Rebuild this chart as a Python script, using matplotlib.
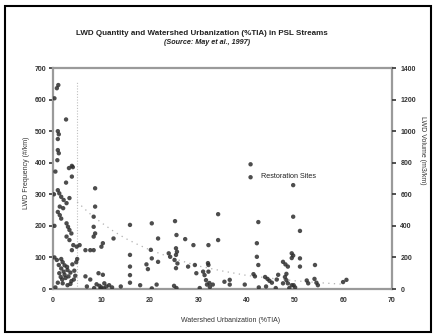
"""
LWD quantity vs. watershed urbanization (%TIA) for Puget Sound lowland streams.
Scatter of LWD frequency per site, with an exponential trend and a 5% TIA marker.
"""

import matplotlib
matplotlib.use("Agg")
import matplotlib.pyplot as plt
from matplotlib.patches import Rectangle


# LWD frequency (#/km) by watershed %TIA
tia = [1.1, 0.8, 0.3, 2.7, 1.0, 1.2, 1.0, 1.0, 1.2, 0.9, 0.5, 3.9, 4.1, 3.3,
       3.9, 2.7, 1.0, 1.3, 1.7, 2.2, 2.8, 3.4, 0.2, 1.4, 2.1, 1.0, 1.4, 1.7,
       2.8, 3.1, 3.4, 3.8, 0.3, 2.8, 3.4, 4.2, 4.9, 3.9, 5.5, 0.3, 1.7, 2.0,
       2.4, 1.7, 3.0, 1.3, 2.4, 3.6, 4.4, 4.0, 0.8, 1.2, 5.0, 4.8, 1.0, 2.0,
       3.0, 3.6, 2.6, 3.2, 1.6, 4.3, 0.5, 2.2, 2.9, 1.9, 3.8, 4.6,
       8.7, 8.7, 8.4, 8.4, 8.7, 8.4, 10.3, 10.0, 8.4, 6.7, 7.7, 12.5, 6.7,
       7.7, 9.4, 10.3, 9.0, 9.6, 10.0, 10.6, 11.0, 11.6, 12.2, 14.0, 8.5,
       9.8, 10.5, 7.0,
       15.9, 20.4, 21.7, 25.2, 25.5, 27.3, 29.0, 32.1, 34.1, 34.1, 15.9,
       15.9, 15.9, 20.2, 20.4, 19.3, 19.6, 21.7, 23.9, 24.2, 25.4, 25.6,
       25.4, 25.1, 25.7, 25.4, 27.9, 29.3, 29.6, 31.0, 31.3, 31.6, 32.0,
       32.3, 35.4, 15.9, 18.0, 20.4, 21.4, 25.0, 25.5, 30.3, 32.4,
       49.6, 42.4, 49.6, 51.0, 42.1, 42.1, 42.4, 49.3, 49.6, 49.3, 47.5,
       48.0, 48.5, 51.0, 51.0, 54.1, 32.1, 32.1, 41.4, 41.7, 36.5, 36.5,
       39.6, 43.8, 44.3, 44.7, 45.2, 46.5, 46.2, 48.2, 47.9, 48.2, 48.5,
       47.5, 49.3, 49.7, 50.0, 48.8, 52.4, 52.7, 54.0, 54.4, 54.7, 59.9,
       60.6, 31.8, 33.0, 42.5, 46.0, 44.0]
freq = [646, 636, 604, 537, 500, 490, 475, 440, 430, 408, 372, 390, 386, 383,
        356, 337, 313, 303, 292, 282, 272, 288, 300, 261, 256, 244, 234, 223,
        208, 197, 187, 176, 200, 166, 155, 139, 134, 123, 139, 100, 95, 85,
        75, 65, 60, 50, 45, 52, 58, 78, 92, 76, 95, 85, 20, 18,
        12, 16, 35, 40, 38, 30, 5, 55, 70, 30, 25, 42,
        319, 261, 229, 197, 176, 166, 145, 134, 123, 123, 123, 160, 40,
        30, 50, 45, 15, 10, 5, 18, 8, 12, 5, 8, 3,
        0, 2, 8,
        203, 208, 160, 215, 171, 158, 139, 139, 237, 155, 108,
        71, 44, 124, 97, 78, 63, 86, 113, 102, 129, 118,
        108, 92, 81, 66, 71, 76, 50, 55, 44, 28, 82,
        19, 23, 20, 12, 2, 14, 10, 3, 3, 6,
        329, 212, 229, 184, 145, 102, 76, 113, 106, 98, 86,
        78, 71, 97, 71, 76, 76, 55, 47, 40, 29, 14,
        14, 38, 32, 26, 20, 45, 30, 48, 38, 28, 18,
        18, 12, 12, 5, 3, 27, 18, 32, 20, 12, 22,
        29, 14, 14, 5, 3, 8]

# restoration sites
rest_tia = [40.8, 40.8]
rest_freq = [395, 354]

# trend line
trend_tia = [5, 7.5, 10, 12.5, 15, 17.5, 20, 25, 30, 35, 40, 45, 50, 55, 60]
trend_freq = [276, 240, 210, 183, 160, 141, 124, 96, 73, 57, 43, 34, 26, 20, 15]

xticks = [0, 10, 20, 30, 40, 50, 60, 70]
yticks_left = [0, 100, 200, 300, 400, 500, 600, 700]
yticks_right = [0, 200, 400, 600, 800, 1000, 1200, 1400]

plt.rcParams['font.family'] = ['Liberation Sans', 'DejaVu Sans']

fig = plt.figure(figsize=(4.35, 3.35), dpi=100)
ax = fig.add_axes([0.1218, 0.1373, 0.7793, 0.6597])

spine_col = "#9a9a9a"
pt_col = "#2e2e2e"

# 5% TIA threshold line
ax.plot([5, 5], [0, 660], color="#c0c0c0", lw=0.8, ls=(0, (1, 1.5)))
ax.plot(trend_tia, trend_freq, color="#b0b0b0", lw=0.9, ls=(0, (1, 3.5)))

ax.scatter(tia, freq, s=10, color=pt_col, edgecolors="none", alpha=0.85,
           zorder=3)
ax.scatter(rest_tia, rest_freq, s=10, color=pt_col, edgecolors="none",
           alpha=0.85, zorder=3)
ax.text(42.9, 355, "Restoration Sites", fontsize=5.2, va="center",
        ha="left", color="#222222")

ax.set_xlim(0, 70)
ax.set_ylim(0, 700)
ax.set_xticks(xticks)
ax.set_yticks(yticks_left)
for s in ax.spines.values():
    s.set_color(spine_col)
    s.set_linewidth(1.6)
ax.tick_params(axis="both", labelsize=5, width=1.2, length=3, colors="#333333",
               pad=2)
ax.tick_params(axis="x", length=0, pad=6)
for lab in ax.get_xticklabels() + ax.get_yticklabels():
    lab.set_fontweight("bold")

ax2 = ax.twinx()
ax2.set_ylim(0, 1400)
ax2.set_yticks(yticks_right)
for s in ax2.spines.values():
    s.set_visible(False)
ax2.tick_params(axis="y", labelsize=5, width=1.2, length=3, colors="#333333",
                pad=3)
for lab in ax2.get_yticklabels():
    lab.set_fontweight("bold")

fig.text(0.464, 0.900, "LWD Quantity and Watershed Urbanization (%TIA) in PSL Streams",
         ha="center", va="center", fontsize=5.8, fontweight="bold",
         color="#222222")
fig.text(0.476, 0.874, "(Source: May et al., 1997)", ha="center", va="center",
         fontsize=5.2, fontweight="bold", style="italic", color="#222222")
fig.text(0.062, 0.483, "LWD Frequency (#/km)", rotation=90, ha="center",
         va="center", fontsize=5, color="#333333")
fig.text(0.972, 0.55, "LWD Volume (m3/km)", rotation=270, ha="center",
         va="center", fontsize=5, color="#333333")
fig.text(0.529, 0.042, "Watershed Urbanization (%TIA)", ha="center",
         va="center", fontsize=5, color="#333333")

# outer frame
fig.patches.append(Rectangle((5 / 435, 3 / 335), 426 / 435, 326 / 335,
                             transform=fig.transFigure, fill=False,
                             edgecolor="black", lw=1.5))

fig.savefig("out.png", dpi=100)
